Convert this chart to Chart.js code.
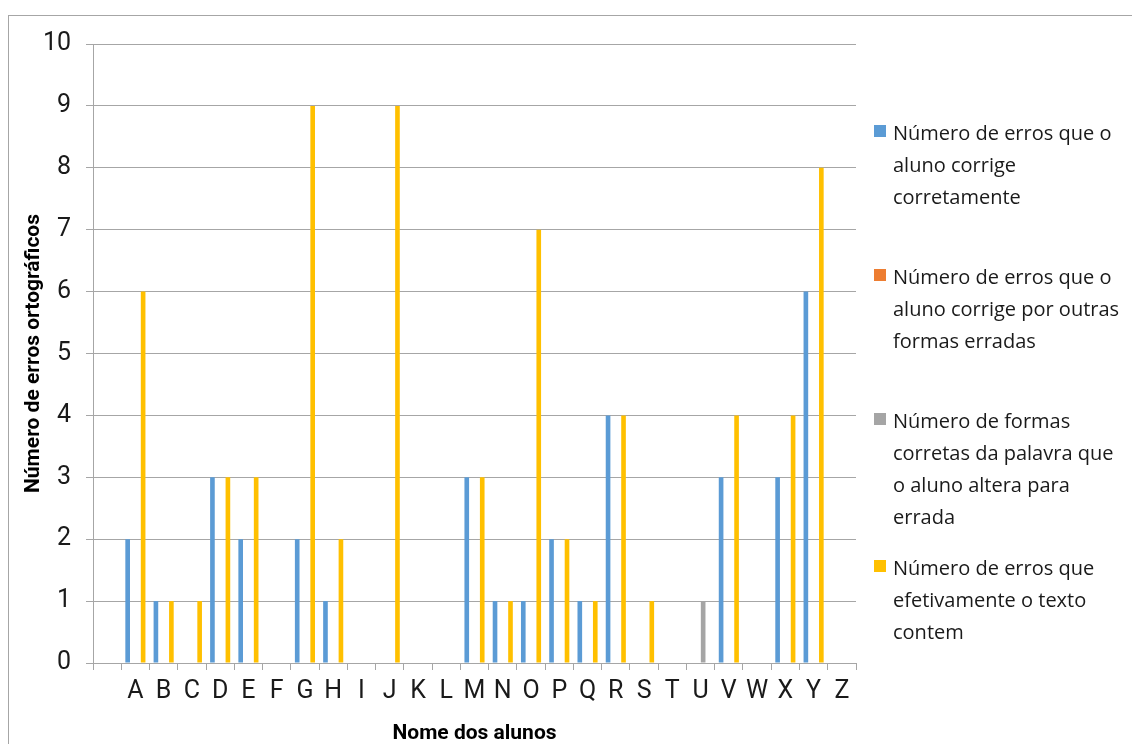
<!DOCTYPE html>
<html><head><meta charset="utf-8">
<script src="https://cdn.jsdelivr.net/npm/chart.js@4"></script>
<style>
html,body{margin:0;padding:0;background:#fff;overflow:hidden}
#wrap{position:relative;width:1132px;height:744px;overflow:hidden}
#frame{position:absolute;left:8px;top:15px;width:1140px;height:760px;border:1px solid #a6a6a6;box-sizing:border-box}
canvas{position:absolute;left:0;top:0}
.leg{position:absolute;left:874px;font-family:'Open Sans','Noto Sans',sans-serif;font-size:20px;line-height:32px;color:#1a1a1a;white-space:nowrap}
.leg .sw{position:absolute;left:0;top:8px;width:12px;height:12px}
.leg .tx{position:absolute;left:19px;top:0}
</style>
</head><body>
<div id="wrap">
<div id="frame"></div>
<canvas id="c" width="1132" height="744"></canvas>
<div id="legend"></div>
</div>
<script>
const categories = ['', 'A','B','C','D','E','F','G','H','I','J','K','L','M','N','O','P','Q','R','S','T','U','V','W','X','Y','Z'];
const legendLines = [
  ['Número de erros que o', 'aluno corrige', 'corretamente'],
  ['Número de erros que o', 'aluno corrige por outras', 'formas erradas'],
  ['Número de formas', 'corretas da palavra que', 'o aluno altera para', 'errada'],
  ['Número de erros que', 'efetivamente o texto', 'contem']
];
const corrigeCorretamente = [0,2,1,0,3,2,0,2,1,0,0,0,0,3,1,1,2,1,4,0,0,0,3,0,3,6,0];
const corrigeOutrasFormas = [0,0,0,0,0,0,0,0,0,0,0,0,0,0,0,0,0,0,0,0,0,0,0,0,0,0,0];
const corretasAlteradas   = [0,0,0,0,0,0,0,0,0,0,0,0,0,0,0,0,0,0,0,0,0,1,0,0,0,0,0];
const errosNoTexto        = [0,6,1,1,3,3,0,9,2,0,9,0,0,3,1,7,2,1,4,1,0,0,4,0,4,8,0];
const seriesValues = [corrigeCorretamente, corrigeOutrasFormas, corretasAlteradas, errosNoTexto];
const seriesColors = ['#5b9bd5','#ed7d31','#a5a5a5','#ffc000'];
const legendTops = [117, 261, 405, 552];

const tickFont = {family:"'Liberation Sans Narrow', Roboto, sans-serif", size:25};
const titleFont = {family:"Roboto, sans-serif", size:21, weight:'bold', lineHeight:1};
const gridColor = '#a6a6a6';

new Chart(document.getElementById('c'), {
  type:'bar',
  data:{
    labels: categories,
    datasets: seriesValues.map((v,i)=>({
      label: legendLines[i].join(' '),
      data: v,
      backgroundColor: seriesColors[i],
      borderWidth: 0,
      categoryPercentage: 0.73,
      barPercentage: 0.9
    }))
  },
  options:{
    responsive:false,
    animation:false,
    devicePixelRatio:1,
    layout:{padding:{top:44,right:276,left:0,bottom:0}},
    plugins:{legend:{display:false}, tooltip:{enabled:false}},
    scales:{
      x:{
        offset:true,
        grid:{offset:true, drawOnChartArea:false, drawTicks:true, tickLength:7, color:gridColor},
        border:{display:true, color:gridColor},
        ticks:{font:tickFont, color:'#1a1a1a', padding:7, maxRotation:0, autoSkip:false},
        title:{display:true, text:'Nome dos alunos', font:titleFont, color:'#000', padding:{top:0,bottom:0}},
        afterFit(s){ s.height = 81; }
      },
      y:{
        min:0, max:10,
        grid:{color:gridColor, tickLength:7},
        border:{display:true, color:gridColor},
        ticks:{stepSize:1, font:tickFont, color:'#1a1a1a', padding:15},
        title:{display:true, text:'Número de erros ortográficos', font:titleFont, color:'#000', padding:{top:23,bottom:0}},
        afterFit(s){ s.width = 93; }
      }
    }
  }
});

const leg = document.getElementById('legend');
legendLines.forEach((lines,i)=>{
  const d = document.createElement('div');
  d.className='leg';
  d.style.top = legendTops[i]+'px';
  const sw = document.createElement('div');
  sw.className='sw'; sw.style.background = seriesColors[i];
  const tx = document.createElement('div');
  tx.className='tx';
  lines.forEach((l,j)=>{ if(j) tx.appendChild(document.createElement('br')); tx.appendChild(document.createTextNode(l)); });
  d.appendChild(sw); d.appendChild(tx);
  leg.appendChild(d);
});
</script>
</body></html>
